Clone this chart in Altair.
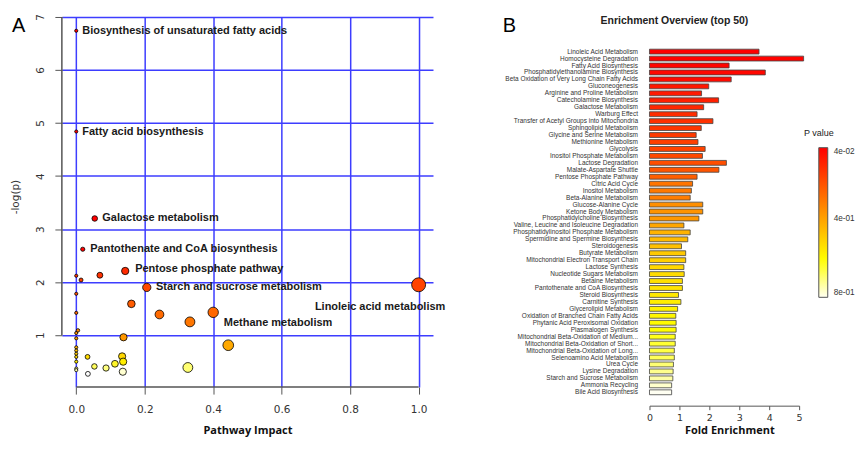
import altair as alt
import pandas as pd

# ---------------- Panel A: pathway impact vs -log(p) ----------------
impact = [0.0, 0.0, 0.054, 0.019, 0.143, 0.0, 0.014, 0.069, 0.206, 1.0,
          0.0, 0.161, 0.243, 0.400, 0.332, 0.0, 0.005, 0.0, 0.0, 0.138,
          0.444, 0.0, 0.0, 0.0, 0.0, 0.0, 0.0, 0.0, 0.033, 0.134,
          0.137, 0.113, 0.053, 0.087, 0.326, 0.136, 0.034]
neglogp = [6.74, 4.84, 3.20, 2.62, 2.21, 2.12, 2.04, 2.13, 1.90, 1.95,
           1.78, 1.59, 1.39, 1.43, 1.25, 1.42, 1.09, 1.04, 0.94, 0.96,
           0.81, 0.77, 0.71, 0.65, 0.59, 0.50, 0.37, 0.34, 0.59, 0.60,
           0.50, 0.46, 0.41, 0.38, 0.39, 0.31, 0.27]

label_names = ["Biosynthesis of unsaturated fatty acids", "Fatty acid biosynthesis",
               "Galactose metabolism", "Pantothenate and CoA biosynthesis",
               "Pentose phosphate pathway", "Starch and sucrose metabolism",
               "Linoleic acid metabolism", "Methane metabolism"]
label_x = [0.0175, 0.0175, 0.076, 0.041, 0.172, 0.233, 0.697, 0.431]
label_y = [6.74, 4.84, 3.20, 2.62, 2.25, 1.90, 1.53, 1.23]

x_ticks_a = [0.0, 0.2, 0.4, 0.6, 0.8, 1.0]
y_ticks_a = [1, 2, 3, 4, 5, 6, 7]

# ---------------- Panel B: enrichment overview ----------------
pathways = [
    "Linoleic Acid Metabolism", "Homocysteine Degradation", "Fatty Acid Biosynthesis",
    "Phosphatidylethanolamine Biosynthesis", "Beta Oxidation of Very Long Chain Fatty Acids",
    "Gluconeogenesis", "Arginine and Proline Metabolism", "Catecholamine Biosynthesis",
    "Galactose Metabolism", "Warburg Effect", "Transfer of Acetyl Groups into Mitochondria",
    "Sphingolipid Metabolism", "Glycine and Serine Metabolism", "Methionine Metabolism",
    "Glycolysis", "Inositol Phosphate Metabolism", "Lactose Degradation",
    "Malate-Aspartate Shuttle", "Pentose Phosphate Pathway", "Citric Acid Cycle",
    "Inositol Metabolism", "Beta-Alanine Metabolism", "Glucose-Alanine Cycle",
    "Ketone Body Metabolism", "Phosphatidylcholine Biosynthesis",
    "Valine, Leucine and Isoleucine Degradation", "Phosphatidylinositol Phosphate Metabolism",
    "Spermidine and Spermine Biosynthesis", "Steroidogenesis", "Butyrate Metabolism",
    "Mitochondrial Electron Transport Chain", "Lactose Synthesis",
    "Nucleotide Sugars Metabolism", "Betaine Metabolism", "Pantothenate and CoA Biosynthesis",
    "Steroid Biosynthesis", "Carnitine Synthesis", "Glycerolipid Metabolism",
    "Oxidation of Branched Chain Fatty Acids", "Phytanic Acid Peroxisomal Oxidation",
    "Plasmalogen Synthesis", "Mitochondrial Beta-Oxidation of Medium...",
    "Mitochondrial Beta-Oxidation of Short...", "Mitochondrial Beta-Oxidation of Long...",
    "Selenoamino Acid Metabolism", "Urea Cycle", "Lysine Degradation",
    "Starch and Sucrose Metabolism", "Ammonia Recycling", "Bile Acid Biosynthesis",
]
fold = [3.66, 5.15, 2.66, 3.87, 2.73, 1.98, 1.74, 2.31, 1.81, 1.59,
        2.12, 1.73, 1.56, 1.62, 1.86, 1.77, 2.57, 2.32, 1.59, 1.44,
        1.40, 1.36, 1.78, 1.78, 1.65, 1.15, 1.36, 1.28, 1.07, 1.21,
        1.21, 1.15, 1.16, 1.10, 1.10, 0.97, 1.05, 0.94, 0.88, 0.89,
        0.89, 0.86, 0.86, 0.83, 0.83, 0.80, 0.79, 0.78, 0.74, 0.74]
pvals = [0.040, 0.045, 0.050, 0.055, 0.062, 0.090, 0.100, 0.110, 0.125, 0.140,
         0.150, 0.160, 0.170, 0.180, 0.190, 0.200, 0.215, 0.230, 0.250, 0.300,
         0.310, 0.320, 0.360, 0.370, 0.380, 0.410, 0.440, 0.455, 0.470, 0.490,
         0.500, 0.520, 0.530, 0.540, 0.550, 0.560, 0.570, 0.580, 0.590, 0.600,
         0.605, 0.630, 0.650, 0.665, 0.680, 0.700, 0.720, 0.740, 0.770, 0.800]
legend_ticks = [0.04, 0.4, 0.8]
x_ticks_b = [0, 1, 2, 3, 4, 5]

GRID = "#3d3dff"
AX = "#555555"

# ---------------- build panel A ----------------
XA = [-0.042, 1.042]
YA = [0.02, 7.0]
xs_a = alt.Scale(domain=XA, nice=False, zero=False)
ys_a = alt.Scale(domain=YA, nice=False, zero=False)

df_a = pd.DataFrame({"impact": impact, "neglogp": neglogp})
df_a = df_a.sort_values("impact", kind="stable")
df_lab = pd.DataFrame({"name": label_names, "lx": label_x, "ly": label_y})

x_axis_a = alt.Axis(values=x_ticks_a, format=".1f", grid=True, gridColor=GRID, gridWidth=1.5,
                    domain=False, tickSize=7, tickColor=AX, tickWidth=1,
                    labelFont="DejaVu Sans", labelFontSize=10.5, labelColor="#333",
                    labelPadding=15, labelBaseline="middle", labelFlush=False,
                    title="Pathway Impact", titleFont="Open Sans", titleFontSize=11,
                    titleFontWeight="bold", titleColor="#111", titleY=43.5,
                    titleBaseline="middle")
y_axis_a = alt.Axis(values=y_ticks_a, format="d", grid=True, gridColor=GRID, gridWidth=1.5,
                    domain=False, tickSize=7, tickColor=AX, tickWidth=1,
                    labelFont="DejaVu Sans", labelFontSize=10.5, labelColor="#333",
                    labelAngle=270, labelAlign="center", labelBaseline="middle",
                    labelPadding=14, labelFlush=False,
                    title="-log(p)", titleFont="DejaVu Sans", titleFontSize=10.5,
                    titleFontWeight="normal", titleColor="#333", titleAngle=270,
                    titleX=-46, titleY=180, titleAlign="center", titleBaseline="middle")

points = alt.Chart(df_a).mark_circle(stroke="black", strokeWidth=0.8, opacity=1).encode(
    x=alt.X("impact:Q", scale=xs_a, axis=x_axis_a),
    y=alt.Y("neglogp:Q", scale=ys_a, axis=y_axis_a),
    size=alt.Size("impact:Q", scale=alt.Scale(domain=[0, 0.05, 0.14, 0.33, 1.0],
                                               range=[10, 30, 53, 98, 196]), legend=None),
    color=alt.Color("neglogp:Q",
                    scale=alt.Scale(domain=[0.27, 0.4, 0.5, 0.8, 1.3, 2.0, 2.6],
                                    range=["#ffffff", "#ffff66", "#ffee00", "#ffaa00",
                                           "#ff7000", "#ff4000", "#ff0000"],
                                    interpolate="rgb"),
                    legend=None),
)

yline = alt.Chart(pd.DataFrame({"x": [XA[0]], "y": [y_ticks_a[0]], "y2": [y_ticks_a[-1]]})).mark_rule(
    color=AX, strokeWidth=1.5).encode(
    x=alt.X("x:Q", scale=xs_a, axis=x_axis_a),
    y=alt.Y("y:Q", scale=ys_a, axis=y_axis_a), y2="y2:Q")
xline = alt.Chart(pd.DataFrame({"x": [x_ticks_a[0]], "x2": [x_ticks_a[-1]], "y": [YA[0]]})).mark_rule(
    color=AX, strokeWidth=1.5).encode(
    x=alt.X("x:Q", scale=xs_a, axis=x_axis_a), x2="x2:Q",
    y=alt.Y("y:Q", scale=ys_a, axis=y_axis_a))

labels_a = alt.Chart(df_lab).mark_text(align="left", baseline="middle", font="Liberation Sans",
                                       fontWeight="bold", fontSize=11, color="#1a1a1a").encode(
    x=alt.X("lx:Q", scale=xs_a, axis=x_axis_a),
    y=alt.Y("ly:Q", scale=ys_a, axis=y_axis_a),
    text="name:N")

tag_a = alt.Chart(pd.DataFrame({"t": ["A"]})).mark_text(
    align="left", baseline="middle", font="Liberation Sans", fontSize=20, color="#000").encode(
    x=alt.value(-50), y=alt.value(9), text="t:N")

panel_a = alt.layer(points, yline, xline, labels_a, tag_a).properties(width=372, height=371)

# ---------------- build panel B ----------------
df_b = pd.DataFrame({"pathway": pathways, "fold": fold, "negp": [-p for p in pvals]})

bars = alt.Chart(df_b).mark_bar(stroke="#444", strokeWidth=0.8).encode(
    y=alt.Y("pathway:N", sort=None,
            scale=alt.Scale(paddingInner=0.3, paddingOuter=1.0, range=[25.3, 385.6]),
            axis=alt.Axis(title=None, ticks=False, domain=False, labelFont="Liberation Sans",
                          labelFontSize=6.5, labelColor="#333", labelPadding=12, labelLimit=400)),
    x=alt.X("fold:Q", scale=alt.Scale(domain=[x_ticks_b[0], x_ticks_b[-1]], nice=False, zero=True),
            axis=alt.Axis(values=x_ticks_b, format="d", grid=False, domain=True, domainColor=AX,
                          domainWidth=1, tickSize=4, tickColor=AX, offset=4,
                          labelFont="DejaVu Sans",
                          labelFontSize=9.5, labelColor="#333", labelBaseline="middle",
                          labelPadding=8, labelFlush=False, title="Fold Enrichment",
                          titleFont="Open Sans", titleFontSize=11, titleFontWeight="bold",
                          titleColor="#111", titleY=25, titleX=80, titleBaseline="middle")),
    color=alt.Color("negp:Q",
                    scale=alt.Scale(domain=[-0.8, -0.61, -0.04],
                                    range=["#fffff2", "#ffff00", "#ff0000"], interpolate="rgb"),
                    legend=alt.Legend(title="P value", orient="none", legendX=154.7, legendY=112,
                                      direction="vertical", gradientLength=150,
                                      gradientThickness=9, gradientStrokeColor="#555",
                                      gradientStrokeWidth=1,
                                      values=[-v for v in legend_ticks],
                                      labelExpr="replace(format(-datum.value, '.0e'), 'e-', 'e-0')",
                                      labelFont="Liberation Sans", labelFontSize=8.2,
                                      labelColor="#333", labelOffset=6,
                                      titleFont="Liberation Sans", titleFontSize=9,
                                      titleFontWeight="normal", titleColor="#222",
                                      titleAnchor="start", titleAlign="center",
                                      titlePadding=10, padding=0)),
)

title_b = alt.Chart(pd.DataFrame({"t": ["Enrichment Overview (top 50)"]})).mark_text(
    align="center", baseline="middle", font="Liberation Sans", fontWeight="bold",
    fontSize=10.5, color="#222").encode(x=alt.value(25), y=alt.value(4), text="t:N")
tag_b = alt.Chart(pd.DataFrame({"t": ["B"]})).mark_text(
    align="left", baseline="middle", font="Liberation Sans", fontSize=20, color="#000").encode(
    x=alt.value(-147), y=alt.value(9), text="t:N")

panel_b = alt.layer(bars, title_b, tag_b).properties(width=150, height=385.6)

chart = alt.hconcat(panel_a, panel_b, spacing=57).resolve_scale(
    x="independent", y="independent", color="independent", size="independent"
).configure_view(stroke=None).properties(
    padding={"left": 3, "top": 4.5, "right": 0, "bottom": 0}
)

chart.save("out.html", embed_options={"renderer": "svg", "actions": False})
